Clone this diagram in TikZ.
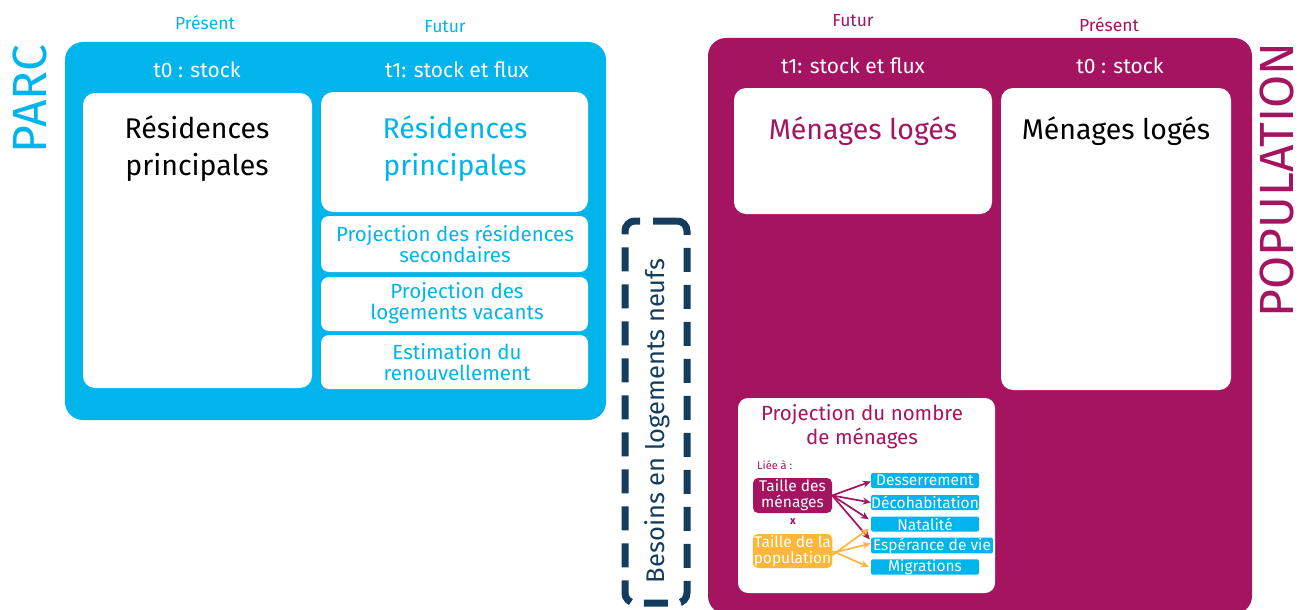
\documentclass[tikz,border=0pt]{standalone}
\usepackage{fontspec}
\setmainfont{Fira Sans}
\usetikzlibrary{arrows.meta}
\definecolor{parc}{HTML}{00B5EB}
\definecolor{pop}{HTML}{A41461}
\definecolor{besoin}{HTML}{143C5F}
\definecolor{orng}{HTML}{FBB73A}
\tikzset{
  bigbox/.style={rounded corners=18pt, inner sep=0pt},
  wbox/.style={fill=white, rounded corners=12pt, inner sep=0pt},
  sbox/.style={fill=white, rounded corners=8pt, inner sep=0pt},
  txt/.style={inner sep=0pt, align=center},
  tag/.style={fill=parc, rounded corners=2pt, inner sep=0pt, minimum height=15pt, text=white, font=\fontsize{15.5}{15}\selectfont},
  mini/.style={rounded corners=5pt, inner sep=1pt, text=white, align=center, font=\fontsize{15.5}{16}\selectfont, minimum width=79pt},
  marr/.style={pop, line width=1.7pt, -{Stealth[length=8pt,width=7pt]}},
  oarr/.style={orng, line width=1.7pt, -{Stealth[length=8pt,width=7pt]}},
}
\begin{document}
\begin{tikzpicture}[x=1pt,y=-1pt]
\useasboundingbox (0,0) rectangle (1301,610);
% ---------- PARC ----------
\node[bigbox, fill=parc, minimum width=541pt, minimum height=378pt] (parcbox) at (335.5,231) {};
\node[txt, text=parc, rotate=90, font=\fontsize{48}{48}\selectfont] (parc) at (30,99) {PARC};
\node[txt, text=parc, font=\fontsize{17.5}{18}\selectfont] (pres1) at (205,23) {Présent};
\node[txt, text=parc, font=\fontsize{17.5}{18}\selectfont] (fut1) at (445,27) {Futur};
\node[txt, text=white, font=\fontsize{21}{22}\selectfont] (t0a) at (197,70) {t0 : stock};
\node[txt, text=white, font=\fontsize{21}{22}\selectfont] (t1a) at (457,70) {t1: stock et flux};
\node[wbox, minimum width=229pt, minimum height=295pt] (rp0) at (197.5,240.5) {};
\node[wbox, minimum width=267pt, minimum height=120pt] (rp1) at (454.5,152) {};
\node[sbox, minimum width=267pt, minimum height=56pt] (rs) at (454.5,244) {};
\node[sbox, minimum width=267pt, minimum height=54pt] (lv) at (454.5,304) {};
\node[sbox, minimum width=267pt, minimum height=54pt] (ren) at (454.5,362) {};
\node[txt, font=\fontsize{28.5}{37}\selectfont] (rp0t) at (197,149) {Résidences\\principales};
\node[txt, text=parc, font=\fontsize{28.5}{37}\selectfont] (rp1t) at (455,149) {Résidences\\principales};
\node[txt, text=parc, font=\fontsize{20.5}{21}\selectfont] (rst) at (455,244) {Projection des résidences\\secondaires};
\node[txt, text=parc, font=\fontsize{20.5}{21}\selectfont] (lvt) at (457,303) {Projection des\\logements vacants};
\node[txt, text=parc, font=\fontsize{20.5}{21}\selectfont] (rent) at (457,362) {Estimation du\\renouvellement};
% ---------- Besoins ----------
\node[draw=besoin, line width=7pt, dash pattern=on 24pt off 13pt, rounded corners=10pt, minimum width=62pt, minimum height=382pt, inner sep=0pt] (bes) at (656,412) {};
\node[txt, text=besoin, rotate=90, font=\fontsize{25.5}{26}\selectfont] (best) at (657,421) {Besoins en logements neufs};
% ---------- POPULATION ----------
\node[bigbox, fill=pop, minimum width=544pt, minimum height=576pt] (popbox) at (980,326) {};
\node[txt, text=pop, rotate=90, font=\fontsize{48}{48}\selectfont] (popt) at (1277,180) {POPULATION};
\node[txt, text=pop, font=\fontsize{17.5}{18}\selectfont] (fut2) at (853,21) {Futur};
\node[txt, text=pop, font=\fontsize{17.5}{18}\selectfont] (pres2) at (1109,25) {Présent};
\node[txt, text=white, font=\fontsize{21}{22}\selectfont] (t1b) at (853,66) {t1: stock et flux};
\node[txt, text=white, font=\fontsize{21}{22}\selectfont] (t0b) at (1120,66) {t0 : stock};
\node[wbox, minimum width=258pt, minimum height=126pt] (ml1) at (863,151) {};
\node[wbox, minimum width=230pt, minimum height=302pt] (ml0) at (1116,239) {};
\node[txt, text=pop, font=\fontsize{28.5}{30}\selectfont] (ml1t) at (863,131) {Ménages logés};
\node[txt, font=\fontsize{28.5}{30}\selectfont] (ml0t) at (1116,131) {Ménages logés};
\node[wbox, rounded corners=10pt, minimum width=257pt, minimum height=195pt] (proj) at (866.5,495.5) {};
\node[txt, text=pop, font=\fontsize{20.5}{24}\selectfont] (projt) at (862,427) {Projection du nombre\\de ménages};
\node[txt, text=pop, font=\fontsize{11}{12}\selectfont, anchor=west] (liee) at (757,465) {Liée à :};
\node[mini, fill=pop, minimum height=35pt] (tm) at (792.5,495.5) {Taille des\\ménages};
\node[txt, text=pop, font=\bfseries\fontsize{11}{11}\selectfont] (x) at (793,522) {x};
\node[mini, fill=orng, minimum height=34pt] (tp) at (792.5,551) {Taille de la\\population};
\node[tag, minimum width=108pt] (des) at (925,480.5) {Desserrement};
\node[tag, minimum width=108pt] (deco) at (925,502.5) {Décohabitation};
\node[tag, minimum width=108pt] (nat) at (925,524) {Natalité};
\node[tag, minimum width=122pt] (esp) at (932,545.5) {Espérance de vie};
\node[tag, minimum width=108pt] (mig) at (925,567) {Migrations};
\draw[marr] (tm.east) -- ([yshift=-1pt]des.west);
\draw[marr] (tm.east) -- (deco.west);
\draw[marr] (tm.east) -- ([xshift=-2pt,yshift=-3pt]nat.north west);
\draw[marr] (tm.east) -- ([xshift=-1pt,yshift=-2pt]esp.north west);
\draw[oarr] ([yshift=-4pt]tp.east) -- ([xshift=-2pt,yshift=3pt]nat.south west);
\draw[oarr] ([yshift=-2pt]tp.east) -- ([yshift=2pt]esp.west);
\draw[oarr] (tp.east) -- ([xshift=-2pt]mig.west);
\end{tikzpicture}
\end{document}
